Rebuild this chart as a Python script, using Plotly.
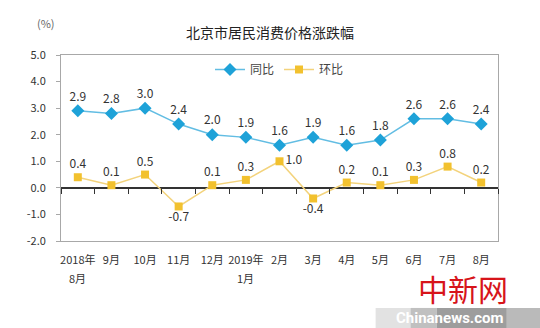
import plotly.graph_objects as go

months = ["2018年", "9月", "10月", "11月", "12月", "2019年", "2月",
          "3月", "4月", "5月", "6月", "7月", "8月"]
months_line2 = ["8月", "", "", "", "", "1月", "", "", "", "", "", "", ""]
yoy = [2.9, 2.8, 3.0, 2.4, 2.0, 1.9, 1.6, 1.9, 1.6, 1.8, 2.6, 2.6, 2.4]
mom = [0.4, 0.1, 0.5, -0.7, 0.1, 0.3, 1.0, -0.4, 0.2, 0.1, 0.3, 0.8, 0.2]
y_ticks = [5.0, 4.0, 3.0, 2.0, 1.0, 0.0, -1.0, -2.0]

FONT = "Noto Sans CJK SC, Noto Sans, sans-serif"
x = list(range(len(months)))

mom_pos = []
for i, v in enumerate(mom):
    if v < 0:
        mom_pos.append("bottom center")
    elif 0 < i < len(mom) - 1 and v > mom[i - 1] and v > mom[i + 1] and v >= 1.0:
        mom_pos.append("middle right")
    else:
        mom_pos.append("top center")

fig = go.Figure()
fig.add_trace(go.Scatter(
    x=x, y=yoy, name="同比", mode="lines+markers+text",
    line=dict(color="#62bde3", width=1.5),
    marker=dict(symbol="diamond", size=10, color="#1ea2d8"),
    text=[f"{v:.1f}" for v in yoy], textposition="top center",
    textfont=dict(size=12, color="#333333", family=FONT),
    cliponaxis=False,
))
fig.add_trace(go.Scatter(
    x=x, y=mom, name="环比", mode="lines+markers+text",
    line=dict(color="#f3d37c", width=1.5),
    marker=dict(symbol="square", size=8, color="#f2c12e"),
    text=[f"{v:.1f}" for v in mom], textposition=mom_pos,
    textfont=dict(size=12, color="#333333", family=FONT),
    cliponaxis=False,
))
# invisible trace on a second x-axis that carries the tick marks along y = 0
fig.add_trace(go.Scatter(x=x, y=[None] * len(x), xaxis="x2", showlegend=False,
                         hoverinfo="skip"))

fig.update_layout(
    width=540, height=328,
    margin=dict(l=61, r=42, t=55, b=87),
    paper_bgcolor="white", plot_bgcolor="white",
    font=dict(family=FONT, color="#333333"),
    title=dict(text="北京市居民消费价格涨跌幅", x=0.5, xanchor="center",
               y=0.9, yanchor="middle", font=dict(size=14, color="#222222")),
    legend=dict(orientation="h", x=0.5, xanchor="center", y=1.0, yanchor="top",
                font=dict(size=12, color="#444444"), bgcolor="rgba(0,0,0,0)",
                itemwidth=30),
    xaxis=dict(range=[-0.5, len(x) - 0.5], tickmode="array", tickvals=x,
               ticktext=months, showline=True, linecolor="#a8a8a8", linewidth=1,
               mirror=True, ticks="", showgrid=False, zeroline=False,
               tickfont=dict(size=11, color="#333333"), ticklabelstandoff=9),
    xaxis2=dict(overlaying="x", anchor="free", position=2 / 7, side="bottom",
                range=[-0.5, len(x) - 0.5], tickmode="array",
                tickvals=[i - 0.5 for i in range(len(x) + 1)],
                showticklabels=False, ticks="outside", ticklen=5,
                tickcolor="#333333", showline=False, showgrid=False,
                zeroline=False),
    yaxis=dict(range=[-2, 5], tickmode="array", tickvals=y_ticks,
               ticktext=[f"{v:.1f}" for v in y_ticks], showline=True,
               linecolor="#a8a8a8", linewidth=1, mirror=True, ticks="outside",
               ticklen=4, tickcolor="#a8a8a8", showgrid=False, zeroline=True,
               zerolinecolor="#333333", zerolinewidth=1.5,
               tickfont=dict(size=11, color="#333333"), ticklabelstandoff=8),
)

for xi, t in zip(x, months_line2):
    if t:
        fig.add_annotation(text=t, x=xi, xref="x", y=-0.2, yref="paper",
                           yanchor="middle", showarrow=False,
                           font=dict(size=11, color="#333333"))

fig.add_annotation(text="(%)", xref="paper", yref="paper", x=-0.06, y=1.17,
                   yanchor="middle", showarrow=False,
                   font=dict(size=11, color="#666666"))

# watermark
bar_steps = [(0.72, 0.80, 0.25), (0.80, 0.86, 0.55), (0.86, 1.02, 0.85),
             (1.02, 1.10, 0.6)]
for x0, x1, op in bar_steps:
    fig.add_shape(type="rect", xref="paper", yref="paper", x0=x0, x1=x1,
                  y0=-0.47, y1=-0.36, fillcolor="#8c8c8c", opacity=op,
                  line=dict(width=0), layer="above")
fig.add_annotation(text="中新网", xref="paper", yref="paper", x=0.92, y=-0.255,
                   xanchor="center", yanchor="middle", showarrow=False,
                   font=dict(size=30, color="#d7141a", family="Noto Sans CJK SC"))
fig.add_annotation(text="<b>Chinanews.com</b>", xref="paper", yref="paper",
                   x=0.89, y=-0.415, yanchor="middle", xanchor="center",
                   showarrow=False,
                   font=dict(size=15, color="white",
                             family="Liberation Sans Narrow, Roboto"))

fig.write_html("out.html")
